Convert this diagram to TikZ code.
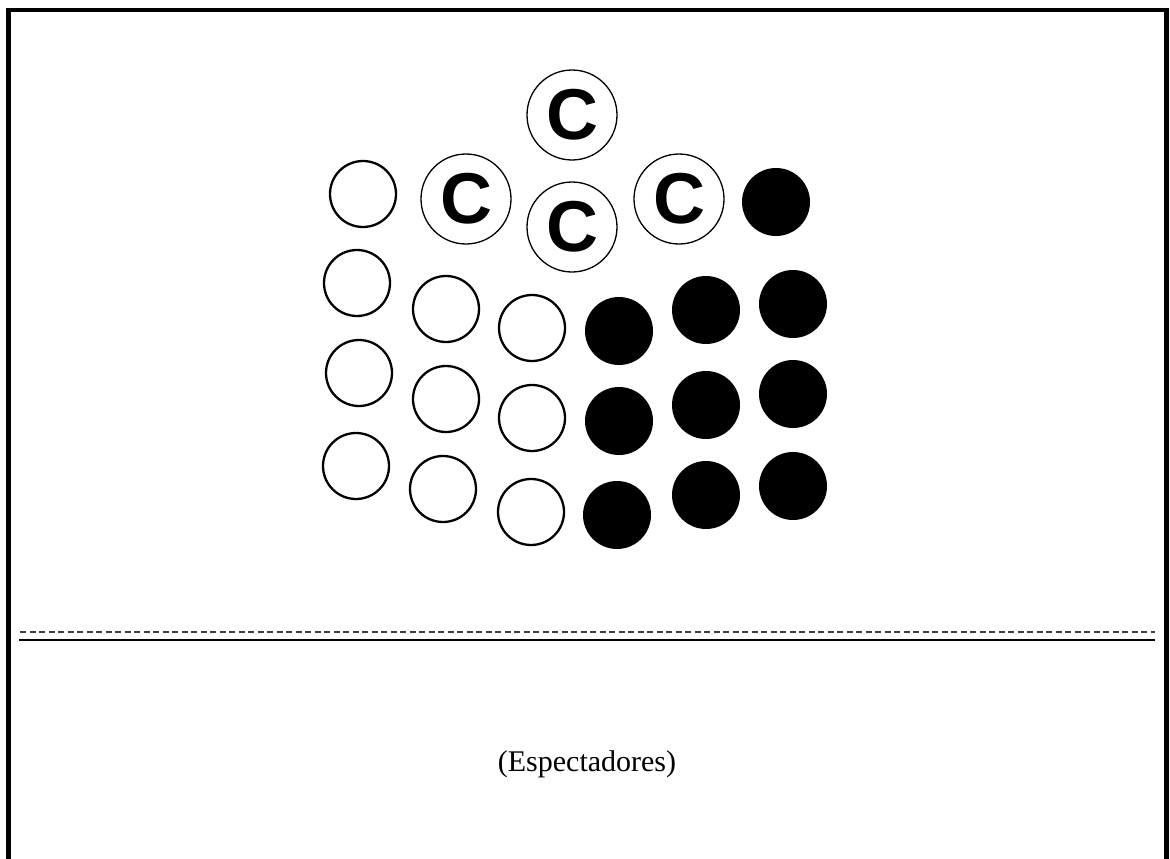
\documentclass[tikz,border=0pt]{standalone}
\usepackage{fontspec}
\setmainfont{Liberation Serif}
\newfontfamily\markfont{Liberation Sans}
\usepackage{tikz}

\begin{document}
\begin{tikzpicture}[
  x=1pt, y=-1pt,
  every node/.style={inner sep=0pt},
  seat/.style={circle, draw, line width=2.3pt, minimum size=66pt},
  filled/.style={circle, fill=black, minimum size=68pt},
  cand/.style={circle, draw, line width=1.3pt, minimum size=90pt,
    font=\markfont\bfseries\fontsize{72}{72}\selectfont},
  frame/.style={line width=4.5pt},
  divider/.style={line width=2.4pt},
  cut/.style={line width=1.2pt, black!75, dash pattern=on 6pt off 3.5pt}
]
\useasboundingbox (0,0) rectangle (1170,859);

% outer frame, open at the bottom
\coordinate (fbl) at (8.5,859);
\coordinate (ftl) at (8.5,10);
\coordinate (ftr) at (1166.5,10);
\coordinate (fbr) at (1166.5,859);
\draw[frame] (fbl) -- (ftl) -- (ftr) -- (fbr);

% candidates
\node[cand] (c1) at (572,115) {C};
\node[cand] (c2) at (466,199) {C};
\node[cand] (c3) at (572,227) {C};
\node[cand] (c4) at (679,199) {C};

% top row
\node[seat] (o0) at (363,194) {};
\node[filled] (b0) at (776,202) {};

% open seats
\node[seat] (o1) at (357,283) {};
\node[seat] (o2) at (359,373) {};
\node[seat] (o3) at (356,466) {};
\node[seat] (o4) at (446,309) {};
\node[seat] (o5) at (446,399) {};
\node[seat] (o6) at (443,489) {};
\node[seat] (o7) at (532,328) {};
\node[seat] (o8) at (532,418) {};
\node[seat] (o9) at (531,512) {};

% filled seats
\node[filled] (b1) at (619,331) {};
\node[filled] (b2) at (619,421) {};
\node[filled] (b3) at (617,515) {};
\node[filled] (b4) at (706,310) {};
\node[filled] (b5) at (706,405) {};
\node[filled] (b6) at (706,495) {};
\node[filled] (b7) at (793,304) {};
\node[filled] (b8) at (793,394) {};
\node[filled] (b9) at (793,486) {};

% stage edge
\coordinate (dl) at (20,632);
\coordinate (dr) at (1155,632);
\coordinate (sl) at (19,640);
\coordinate (sr) at (1155,640);
\draw[cut] (dl) -- (dr);
\draw[divider] (sl) -- (sr);

\node[font=\fontsize{30}{36}\selectfont] (aud) at (587,764) {(Espectadores)};
\end{tikzpicture}
\end{document}
